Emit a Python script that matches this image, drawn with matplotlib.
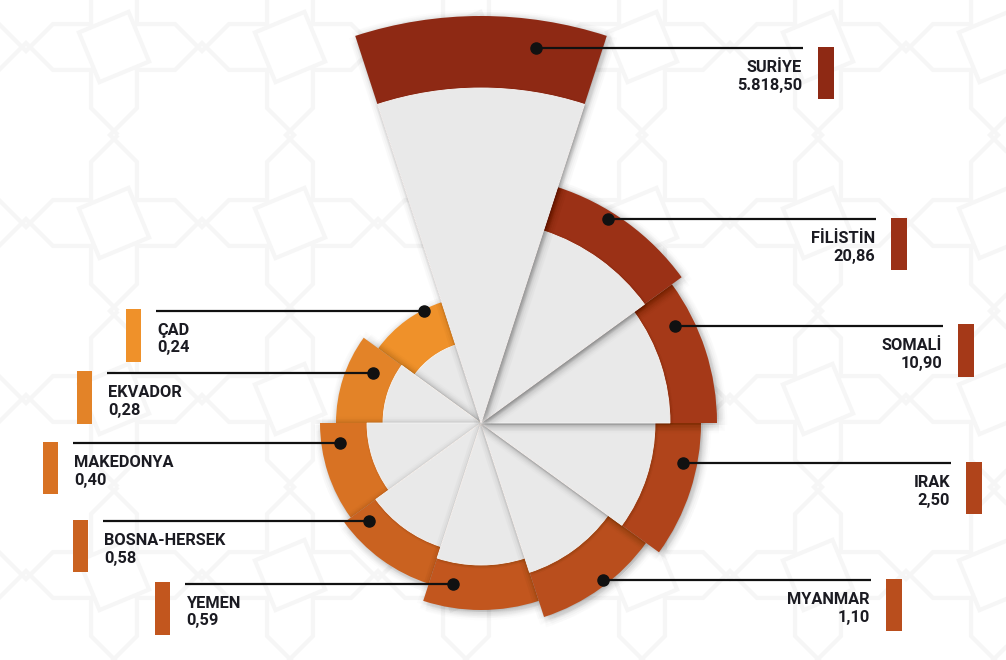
import numpy as np
import matplotlib
matplotlib.use("Agg")
import matplotlib.pyplot as plt
from matplotlib import patheffects as pe
from matplotlib import font_manager as fm
from matplotlib.patches import Rectangle, Polygon

# --- data -------------------------------------------------------------
countries = ["SURİYE", "FİLİSTİN", "SOMALİ", "IRAK", "MYANMAR",
             "YEMEN", "BOSNA-HERSEK", "MAKEDONYA", "EKVADOR", "ÇAD"]
values = [5818.50, 20.86, 10.90, 2.50, 1.10, 0.59, 0.58, 0.40, 0.28, 0.24]

# --- layout of the rose ----------------------------------------------
ring_outer = [407, 248, 236, 220, 204, 187, 169, 161, 145, 127]
ring_inner = [335, 202, 189, 174, 157, 142, 130, 114, 98, 82]
colors = ["#8E2914", "#9B3116", "#A53918", "#B0441B", "#B94E1D",
          "#C2561E", "#CA6220", "#D87223", "#E38328", "#EF912A"]
dot_angle = [8.4, 32.0, 63.4, 101.3, 142.3, 190.0, 228.7, 261.8, 295.0, 333.1]
dot_radius = [379, 240, 217, 206, 199, 163, 149, 142, 119, 126]
label_x = [803, 876, 943, 951, 871, 185, 103, 73, 107, 156]

W, H = 1006, 660
CX, CY, RMAX = 481, 423, 420
TEXT = "#1b1b22"
PATTERN = "#F6F6F6"

installed = {f.name for f in fm.fontManager.ttflist}
FONT = [f for f in ("Roboto", "Liberation Sans", "DejaVu Sans") if f in installed] or ["DejaVu Sans"]


def tr_value(v):
    s = f"{v:,.2f}"
    return s.replace(",", "#").replace(".", ",").replace("#", ".")


def soft_shadow(alpha, radii, dx=1.5, dy=-1.5):
    fx = []
    for r in radii:
        for k in range(8):
            a = 2 * np.pi * k / 8
            fx.append(pe.SimplePatchShadow(offset=(dx + r * np.cos(a), dy + r * np.sin(a)),
                                           shadow_rgbFace="black", alpha=alpha))
    fx.append(pe.Normal())
    return fx


fig = plt.figure(figsize=(W / 100, H / 100), dpi=100)
fig.patch.set_facecolor("white")

# faint star lattice in the background
bg = fig.add_axes([0, 0, 1, 1], zorder=0)
bg.set_xlim(0, W)
bg.set_ylim(H, 0)
bg.set_axis_off()
period = 176
R_out = 92
R_in = R_out * np.cos(np.pi / 4) / np.cos(np.pi / 8)
ang = np.arange(16) * np.pi / 8
rad = np.where(np.arange(16) % 2 == 0, R_out, R_in)
for gx in np.arange(202 - 2 * period, W + period, period):
    for gy in np.arange(135 - period, H + period, period):
        pts = np.column_stack([gx + rad * np.cos(ang), gy + rad * np.sin(ang)])
        bg.add_patch(Polygon(pts, closed=True, fill=False, edgecolor=PATTERN, lw=3.0))
        sq = np.column_stack([gx + period / 2 + 38 * np.cos(ang[::4] + np.pi / 8),
                              gy + period / 2 + 38 * np.sin(ang[::4] + np.pi / 8)])
        bg.add_patch(Polygon(sq, closed=True, fill=False, edgecolor=PATTERN, lw=3.0))

# polar axes centred on the rose, one radial unit = one pixel
pax = fig.add_axes([(CX - RMAX) / W, (H - CY - RMAX) / H, 2 * RMAX / W, 2 * RMAX / H],
                   projection="polar", zorder=2)
pax.set_theta_zero_location("N")
pax.set_theta_direction(-1)
pax.set_rlim(0, RMAX)
pax.set_axis_off()

n = len(countries)
step = 2 * np.pi / n
theta = np.arange(n) * step

# draw from the smallest slice to the largest so larger ones sit on top
for i in sorted(range(n), key=lambda k: ring_outer[k]):
    z = 2 + 2 * (n - i)
    pax.bar(theta[i], ring_outer[i], width=step, bottom=0, color=colors[i],
            linewidth=0, zorder=z,
            path_effects=soft_shadow(0.013, (1.5, 3.0, 4.5, 6.0)))
    pax.bar(theta[i], ring_inner[i], width=step, bottom=0, color="#E9E9E9",
            edgecolor="#F7F7F7", linewidth=0.6, zorder=z + 1,
            path_effects=soft_shadow(0.010, (1.0, 2.0), dx=0.8, dy=-0.8))

# overlay in pixel coordinates for leader lines and labels
ov = fig.add_axes([0, 0, 1, 1], zorder=5)
ov.set_xlim(0, W)
ov.set_ylim(H, 0)
ov.set_axis_off()

for i in range(n):
    disp = pax.transData.transform((np.deg2rad(dot_angle[i]), dot_radius[i]))
    x, y = ov.transData.inverted().transform(disp)
    lx = label_x[i]
    ov.plot([x, lx], [y, y], color="#111111", lw=1.6, solid_capstyle="butt", zorder=6)
    ov.plot([x], [y], "o", ms=8, color="#111111", zorder=7)
    right = dot_angle[i] < 180
    if right:
        tx, ha = lx - 1, "right"
        bx = lx + 15.5
    else:
        tx, ha = lx + 1.5, "left"
        bx = lx - 30
    ov.text(tx, y + 24, countries[i], ha=ha, va="baseline", fontsize=11.8,
            fontweight="bold", color=TEXT, family=FONT)
    ov.text(tx, y + 41.8, tr_value(values[i]), ha=ha, va="baseline", fontsize=11.8,
            fontweight="bold", color=TEXT, family=FONT)
    ov.add_patch(Rectangle((bx, y - 1.5), 15.5, 52.5, color=colors[i], lw=0, zorder=6))

fig.savefig("out.png", dpi=100, facecolor="white")
